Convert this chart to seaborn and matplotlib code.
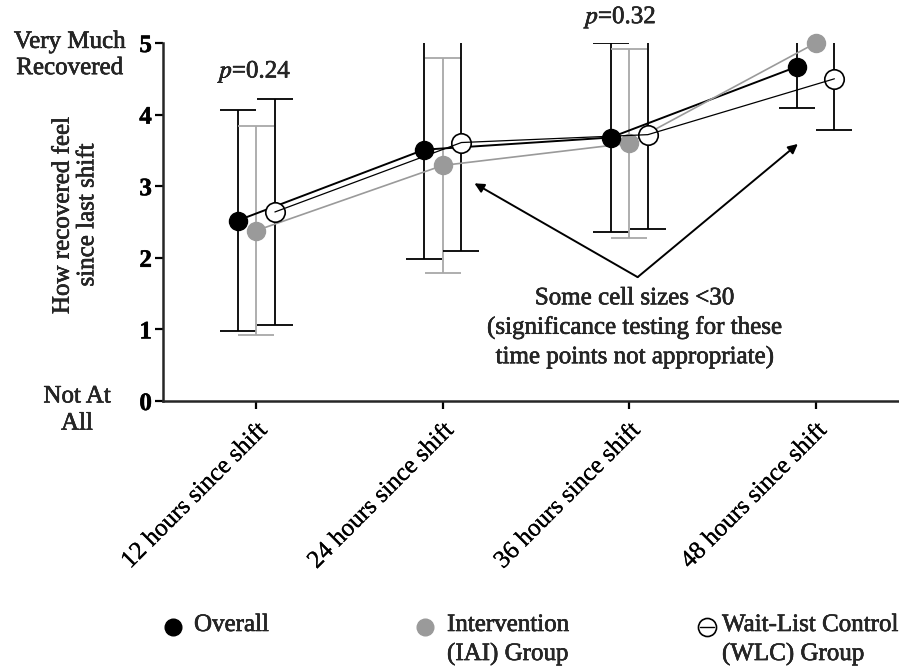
import matplotlib
matplotlib.use("Agg")
import matplotlib.pyplot as plt
import matplotlib.patheffects as pe
from matplotlib.lines import Line2D
from matplotlib.text import Text
import seaborn as sns
import pandas as pd
import numpy as np

# ---- data ----
categories = ["12 hours since shift", "24 hours since shift",
              "36 hours since shift", "48 hours since shift"]
groups = ["Overall", "Intervention\n(IAI) Group", "Wait-List Control\n(WLC) Group"]
overall_mean = [2.52, 3.51, 3.68, 4.67]
overall_sd = [1.54, 1.53, 1.32, 0.58]
iai_mean = [2.38, 3.29, 3.60, 5.00]
iai_sd = [1.46, 1.50, 1.32, np.nan]
wlc_mean = [2.64, 3.61, 3.72, 4.50]
wlc_sd = [1.58, 1.51, 1.32, 0.71]
y_ticks = [0, 1, 2, 3, 4, 5]
p_labels = ["0.24", "0.32"]
annotation = "Some cell sizes <30\n(significance testing for these\ntime points not appropriate)"

sns.set_theme(style="ticks")
plt.rcParams["font.family"] = ["Liberation Serif", "DejaVu Serif"]
plt.rcParams["mathtext.fontset"] = "stix"

FS = 18

fig = plt.figure(figsize=(8.99, 6.69), dpi=100)
ax = fig.add_axes([163 / 899, 268 / 669, 746 / 899, 358 / 669])

x = np.arange(len(categories))
offsets = [-0.1, 0.0, 0.1]
means = [overall_mean, iai_mean, wlc_mean]
sds = [overall_sd, iai_sd, wlc_sd]
line_colors = ["black", "#9a9a9a", "black"]
err_colors = ["black", "#a8a8a8", "black"]
line_w = [1.4, 1.2, 0.9]

rows = []
for g, m, s, o in zip(groups, means, sds, offsets):
    for i, c in enumerate(categories):
        rows.append({"group": g, "time": c, "xpos": i + o, "mean": m[i], "sd": s[i]})
df = pd.DataFrame(rows)

# error bars
for k, g in enumerate(groups):
    d = df[df.group == g].dropna(subset=["sd"])
    ax.errorbar(d.xpos, d["mean"], yerr=d["sd"], fmt="none", ecolor=err_colors[k],
                elinewidth=1.3, capsize=13, capthick=1.3, zorder=2)

# lines (seaborn)
for k, g in enumerate(groups):
    d = df[df.group == g]
    sns.lineplot(data=d, x="xpos", y="mean", color=line_colors[k], lw=line_w[k],
                 ax=ax, legend=False, sort=False, zorder=3 if k < 2 else 5)

# markers
ax.plot(df[df.group == groups[1]].xpos, df[df.group == groups[1]]["mean"], "o",
        ms=13, color="#9a9a9a", mec="#9a9a9a", zorder=4, clip_on=False)
ax.plot(df[df.group == groups[0]].xpos, df[df.group == groups[0]]["mean"], "o",
        ms=13, color="black", zorder=4, clip_on=False)
ax.plot(df[df.group == groups[2]].xpos, df[df.group == groups[2]]["mean"], "o",
        ms=14, mfc="white", mec="black", mew=1.2, zorder=4, clip_on=False)

ax.set_xlim(-0.5, 3.5)
ax.set_ylim(0, 5)
ax.set_yticks(y_ticks)
ax.set_yticklabels([str(t) for t in y_ticks], fontsize=FS, fontweight="bold")
ax.set_xticks(x)
ax.set_xticklabels(categories, rotation=45, ha="right", rotation_mode="anchor",
                   fontsize=FS)
ax.set_xlabel("")
ax.set_ylabel("")
for s in ["top", "right"]:
    ax.spines[s].set_visible(False)
for s in ["left", "bottom"]:
    ax.spines[s].set_linewidth(1.8)
ax.tick_params(axis="both", length=6, width=1.6, color="black", labelcolor="black")
ax.tick_params(axis="x", pad=7)
ax.tick_params(axis="y", pad=2)
ax.set_facecolor("white")

# y-axis descriptive labels
fig.text(70 / 899, 1 - 55 / 669, "Very Much\nRecovered", ha="center", va="center",
         fontsize=FS, linespacing=1.25)
fig.text(77 / 899, 1 - 410 / 669, "Not At\nAll", ha="center", va="center",
         fontsize=FS, linespacing=1.3)
fig.text(75 / 899, 1 - 215 / 669, "How recovered feel\nsince last shift", ha="center",
         va="center", rotation=90, fontsize=FS, linespacing=1.15)

# p values
ax.text(0, 4.60, r"$\mathit{p}$=" + p_labels[0], ha="center", va="center",
        fontsize=FS, clip_on=False)
ax.text(1.96, 5.36, r"$\mathit{p}$=" + p_labels[1], ha="center", va="center",
        fontsize=FS, clip_on=False)

# annotation with arrows
ax.text(2.03, 1.02, annotation, ha="center", va="center", fontsize=FS,
        linespacing=1.36)
vertex = (2.045, 1.73)
for tgt in [(1.17, 3.04), (2.904, 3.59)]:
    ax.annotate("", xy=tgt, xytext=vertex,
                arrowprops=dict(arrowstyle="-|>", color="black", lw=1.4,
                                mutation_scale=14, shrinkA=0, shrinkB=0))

# legend (manual, top-aligned multi-line labels)
leg_y = 1 - 627 / 669
leg_items = [
    (173, 194, dict(marker="o", ms=12, color="black", mec="black", ls="none")),
    (425, 447, dict(marker="o", ms=12, color="#9a9a9a", mec="#9a9a9a", ls="none")),
    (707, 722, dict(marker="o", ms=13, mfc="white", mec="black", mew=1.2, ls="none")),
]
for (mx, tx, kw), g in zip(leg_items, groups):
    fig.add_artist(Line2D([mx / 899], [leg_y], transform=fig.transFigure, **kw))
    if g.startswith("Wait"):
        fig.add_artist(Line2D([(mx - 7) / 899, (mx + 7) / 899], [leg_y, leg_y],
                              transform=fig.transFigure, color="black", lw=1.0))
    fig.text(tx / 899, leg_y + 13 / 669, g, ha="left", va="top", fontsize=FS,
             linespacing=1.36)

# slightly heavier text strokes, like the reference rendering
xtl = set(ax.get_xticklabels())
for t in fig.findobj(Text):
    if t.get_text():
        w = 0.2 if t in xtl else 0.4
        t.set_path_effects([pe.withStroke(linewidth=w, foreground="black")])

fig.savefig("out.png", dpi=100, facecolor="white")
